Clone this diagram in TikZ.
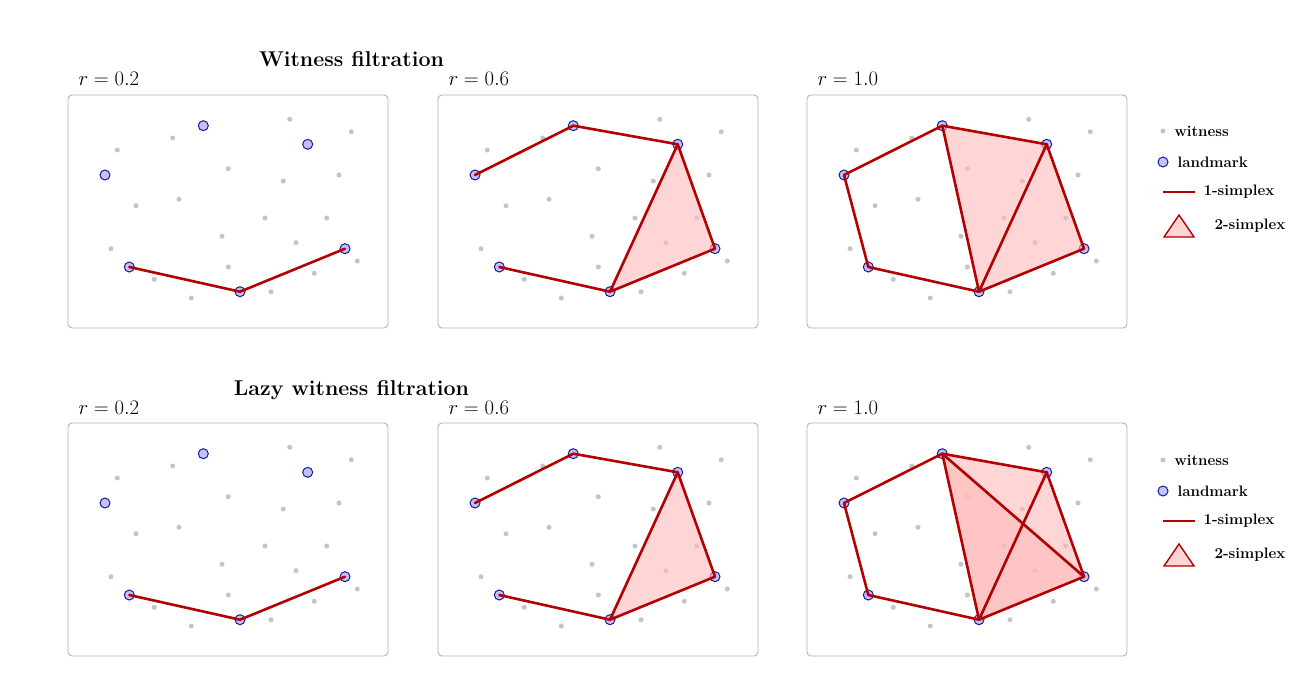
\documentclass[tikz,border=0pt]{standalone}
\definecolor{edgered}{HTML}{B30000}
\definecolor{lmfill}{HTML}{C2C2F7}
\definecolor{lmdraw}{HTML}{1A1AA0}
\definecolor{wgray}{HTML}{C4C4C4}
\definecolor{boxgray}{HTML}{B4B4B4}
\definecolor{facepink}{RGB}{255,185,185}
\newcommand\mypanel[3]{%
  \begin{scope}[shift={(#2,#3)}]
    \draw[panelbox] (0,0) rectangle (320,233);
    \foreach \x/\y [count=\i] in {49.3/55, 104.7/43, 221.7/24.3, 283.3/36.7, 160.3/73.7, 215.3/86, 271/80, 68/110.7, 111/104.3, 197/123, 258.7/123, 154/141.3, 228/147.7, 43/153.7, 289.3/166, 160.3/172, 246.3/178.3, 86.3/184.3, 123.3/203, 203/196.7}
      \node[witness] (#1w\i) at (\x,\y) {};
    \foreach \n/\x/\y in {a/37/80, b/135.3/30.7, c/239.7/49.3, d/61.3/172, e/172/196.7, f/277/153.7}
      \node[landmark] (#1\n) at (\x,\y) {};
  \end{scope}}
\begin{document}
\begin{tikzpicture}[x=1bp,y=-1bp,
  panelbox/.style={draw=boxgray, line width=0.9bp, rounded corners=4bp},
  witness/.style={circle, fill=wgray, inner sep=0pt, minimum size=5bp},
  landmark/.style={circle, draw=lmdraw, fill=lmfill, line width=1bp, inner sep=0pt, minimum size=10bp},
  simplex/.style={draw=edgered, line width=2.6bp, line join=round, line cap=round},
  face/.style={fill=facepink, fill opacity=0.6},
  title/.style={font=\fontsize{21.5}{24}\selectfont\bfseries, anchor=base},
  rlabel/.style={font=\fontsize{20.3}{24}\selectfont, anchor=base west},
  legtext/.style={font=\fontsize{15.2}{17}\selectfont\bfseries, anchor=west}]
\useasboundingbox (0,0) rectangle (1300,687);
\fill[white] (0,0) rectangle (1300,687);

% titles
\node[title] (t1) at (351.5,67) {Witness filtration};
\node[title] (t2) at (351.5,395) {Lazy witness filtration};

% panels
\mypanel{pa}{68}{95}
\mypanel{pb}{438}{95}
\mypanel{pc}{807}{95}
\mypanel{qa}{68}{423}
\mypanel{qb}{438}{423}
\mypanel{qc}{807}{423}

% labels
\node[rlabel] (la1) at (75,86) {$r = 0.2$};
\node[rlabel] (la2) at (445,86) {$r = 0.6$};
\node[rlabel] (la3) at (814,86) {$r = 1.0$};
\node[rlabel] (lb1) at (75,414) {$r = 0.2$};
\node[rlabel] (lb2) at (445,414) {$r = 0.6$};
\node[rlabel] (lb3) at (814,414) {$r = 1.0$};

% faces
\foreach \p in {pb,qb} {
  \fill[face] (\p c.center) -- (\p e.center) -- (\p f.center) -- cycle;
}
\fill[face] (pcb.center) -- (pcc.center) -- (pce.center) -- cycle;
\fill[face] (pcc.center) -- (pce.center) -- (pcf.center) -- cycle;
\fill[face] (qcb.center) -- (qcc.center) -- (qce.center) -- cycle;
\fill[face] (qcc.center) -- (qce.center) -- (qcf.center) -- cycle;
\fill[face] (qcb.center) -- (qce.center) -- (qcf.center) -- cycle;

% edges
\foreach \p in {pa,qa} {
  \draw[simplex] (\p d.center) -- (\p e.center) -- (\p f.center);
}
\foreach \p in {pb,qb} {
  \draw[simplex] (\p a.center) -- (\p b.center) -- (\p c.center) -- (\p f.center) -- (\p e.center) -- (\p d.center);
  \draw[simplex] (\p c.center) -- (\p e.center);
}
\foreach \p in {pc,qc} {
  \draw[simplex] (\p a.center) -- (\p b.center) -- (\p c.center) -- (\p f.center) -- (\p e.center) -- (\p d.center) -- cycle;
  \draw[simplex] (\p c.center) -- (\p e.center);
  \draw[simplex] (\p b.center) -- (\p e.center);
}
\draw[simplex] (qcb.center) -- (qcf.center);

% legends
\foreach \oy/\l in {0/A,329/B} {
  \begin{scope}[shift={(0,\oy)}]
    \node[witness] (lw\l) at (1163,131) {};
    \node[legtext] (lwt\l) at (1171,131.5) {witness};
    \node[landmark] (ll\l) at (1163,162) {};
    \node[legtext] (llt\l) at (1174,162) {landmark};
    \coordinate (ls1\l) at (1163,192);
    \coordinate (ls2\l) at (1195,192);
    \draw[draw=edgered, line width=2.8bp] (ls1\l) -- (ls2\l);
    \node[legtext] (lst\l) at (1200,192) {1-simplex};
    \coordinate (lt1\l) at (1164,237);
    \coordinate (lt2\l) at (1194,237);
    \coordinate (lt3\l) at (1179,215);
    \draw[draw=edgered, fill=facepink, fill opacity=0.6, line width=1.4bp, line join=miter] (lt1\l) -- (lt2\l) -- (lt3\l) -- cycle;
    \node[legtext] (ltt\l) at (1211,226) {2-simplex};
  \end{scope}
}
\end{tikzpicture}
\end{document}
